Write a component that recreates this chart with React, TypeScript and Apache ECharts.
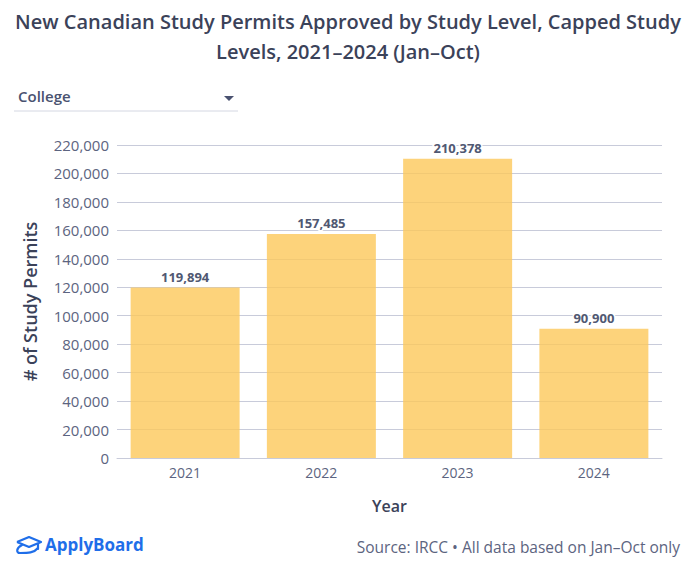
import React, { useEffect, useRef } from "react";
import * as echarts from "echarts";

const years = ["2021", "2022", "2023", "2024"];
const permits = [119894, 157485, 210378, 90900];
const titleText = "New Canadian Study Permits Approved by Study Level, Capped Study\nLevels, 2021–2024 (Jan–Oct)";
const dropdownLabel = "College";
const sourceText = "Source: IRCC • All data based on Jan–Oct only";
const brandText = "ApplyBoard";

const FONT = "'Open Sans', 'Noto Sans', sans-serif";

export default function App() {
  const ref = useRef<HTMLDivElement>(null);
  useEffect(() => {
    if (!ref.current) return;
    const chart = echarts.init(ref.current, undefined, { renderer: "svg" });
    chart.setOption({
      animation: false,
      backgroundColor: "#ffffff",
      title: {
        text: titleText,
        left: "center",
        top: 1,
        textStyle: {
          fontFamily: FONT,
          fontSize: 20,
          fontWeight: 600,
          color: "#3b4259",
          lineHeight: 30,
        },
      },
      grid: { left: 117, right: 34, top: 145, bottom: 112, containLabel: false },
      xAxis: {
        type: "category",
        data: years,
        name: "Year",
        nameLocation: "middle",
        nameGap: 40,
        nameTextStyle: { fontFamily: FONT, fontSize: 16, fontWeight: 600, color: "#3b4259" },
        axisLine: { lineStyle: { color: "#c8cbda" } },
        axisTick: { show: false },
        axisLabel: { fontFamily: FONT, fontSize: 14, color: "#5c6480", margin: 7 },
      },
      yAxis: {
        type: "value",
        min: 0,
        max: 220000,
        interval: 20000,
        name: "# of Study Permits",
        nameLocation: "middle",
        nameGap: 78,
        nameTextStyle: { fontFamily: FONT, fontSize: 18, fontWeight: 600, color: "#3b4259" },
        axisLine: { show: false },
        axisTick: { show: false },
        axisLabel: {
          fontFamily: FONT,
          fontSize: 15,
          color: "#5c6480",
          margin: 8,
          formatter: (v: number) => v.toLocaleString("en-US"),
        },
        splitLine: { lineStyle: { color: "#c8cbda", width: 1 } },
      },
      series: [
        {
          type: "bar",
          data: permits,
          barWidth: "80%",
          itemStyle: { color: "rgba(253,200,90,0.8)" },
          label: {
            show: true,
            position: "top",
            distance: 4,
            fontFamily: FONT,
            fontSize: 13,
            fontWeight: 700,
            color: "#505872",
            textBorderColor: "#ffffff",
            textBorderWidth: 3,
            formatter: (p: any) => Number(p.value).toLocaleString("en-US"),
          },
        },
      ],
      graphic: [
        {
          type: "text",
          left: 18,
          top: 88,
          style: { text: dropdownLabel, fontFamily: FONT, fontSize: 15, fontWeight: 600, fill: "#4a5270" },
        },
        {
          type: "polygon",
          shape: { points: [[224, 96], [234, 96], [229, 101]] },
          style: { fill: "#4a5270" },
        },
        {
          type: "line",
          shape: { x1: 14, y1: 111, x2: 238, y2: 111 },
          style: { stroke: "#d4d7e2", lineWidth: 1 },
        },
        {
          type: "group",
          children: [
            {
              type: "polyline",
              shape: { points: [[17, 542], [29, 537], [41, 542], [29, 547], [17, 542]] },
              style: { stroke: "#1f6ee9", lineWidth: 2.2, fill: "none", lineJoin: "round" },
            },
            {
              type: "bezierCurve",
              shape: { x1: 22, y1: 545, x2: 20, y2: 553, cpx1: 16, cpy1: 548, cpx2: 16, cpy2: 553 },
              style: { stroke: "#1f6ee9", lineWidth: 2.2, fill: "none", lineCap: "round" },
            },
            {
              type: "bezierCurve",
              shape: { x1: 20, y1: 553, x2: 38, y2: 548, cpx1: 28, cpy1: 553, cpx2: 34, cpy2: 553 },
              style: { stroke: "#1f6ee9", lineWidth: 2.2, fill: "none", lineCap: "round" },
            },
            {
              type: "line",
              shape: { x1: 38, y1: 544, x2: 38, y2: 549 },
              style: { stroke: "#1f6ee9", lineWidth: 2.2, lineCap: "round" },
            },
          ],
        },
        {
          type: "text",
          left: 45,
          top: 536,
          style: { text: brandText, fontFamily: FONT, fontSize: 17, fontWeight: 700, fill: "#1f6ee9" },
        },
        {
          type: "text",
          right: 16,
          top: 539,
          style: { text: sourceText, fontFamily: FONT, fontSize: 15.5, fill: "#5c6480" },
        },
      ],
    });
    return () => chart.dispose();
  }, []);
  return <div ref={ref} style={{ width: 696, height: 570, position: "absolute", left: 0, top: 0 }} />;
}
